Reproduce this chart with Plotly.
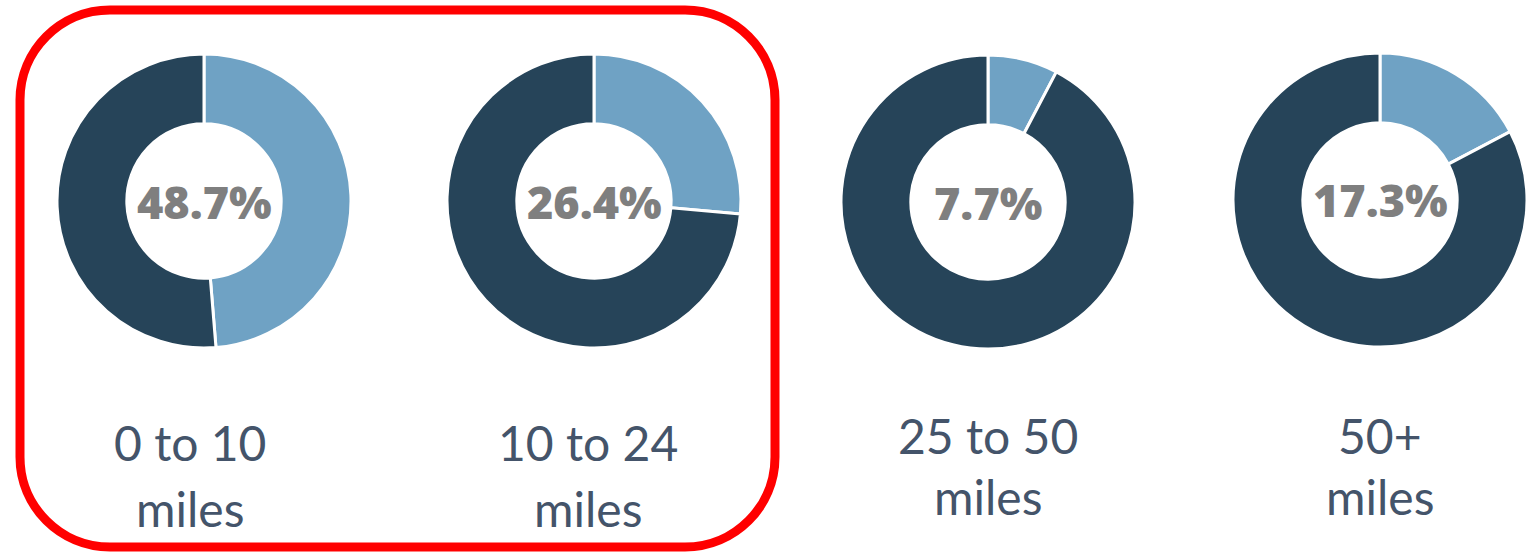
import plotly.graph_objects as go

# ---- data ----
categories = ["0 to 10<br>miles", "10 to 24<br>miles", "25 to 50<br>miles", "50+<br>miles"]
share_pct = [48.7, 26.4, 7.7, 17.3]
center_labels = ["48.7%", "26.4%", "7.7%", "17.3%"]
slice_names = ["Share", "Other"]

# ---- layout constants (pixels) ----
W, H = 1536, 553
centers_x = [204, 594, 988, 1380]
centers_y = [201, 201, 202, 200]
radius = 147
label_x = [190, 588, 988, 1380]
label_line1_y = [442, 442, 435, 435]
label_line2_y = [508, 508, 496, 496]

LIGHT = "#6FA2C4"
DARK = "#264459"
TEXT2 = "#44546A"
GREY = "#7F7F7F"

fig = go.Figure()

for i, pct in enumerate(share_pct):
    cx, cy = centers_x[i], centers_y[i]
    x0 = (cx - radius) / W
    x1 = (cx + radius) / W
    y0 = (H - cy - radius) / H
    y1 = (H - cy + radius) / H
    fig.add_trace(go.Pie(
        labels=slice_names,
        values=[pct, 100 - pct],
        hole=0.525,
        sort=False,
        direction="clockwise",
        rotation=0,
        textinfo="none",
        hoverinfo="label+percent",
        marker=dict(colors=[LIGHT, DARK], line=dict(color="white", width=3)),
        domain=dict(x=[x0, x1], y=[y0, y1]),
        showlegend=False,
    ))
    # center value
    fig.add_annotation(
        x=cx / W, y=(H - cy) / H, xref="paper", yref="paper",
        text=center_labels[i], showarrow=False,
        font=dict(family="Open Sans", size=45, color=GREY, weight=800),
        xanchor="center", yanchor="middle",
    )
    # category label (two lines)
    line1, line2 = categories[i].split("<br>")
    fig.add_annotation(
        x=label_x[i] / W, y=(H - label_line1_y[i]) / H, xref="paper", yref="paper",
        text=line1, showarrow=False,
        font=dict(family="Lato", size=48, color=TEXT2),
        xanchor="center", yanchor="middle",
    )
    fig.add_annotation(
        x=label_x[i] / W, y=(H - label_line2_y[i]) / H, xref="paper", yref="paper",
        text=line2, showarrow=False,
        font=dict(family="Lato", size=48, color=TEXT2),
        xanchor="center", yanchor="middle",
    )

# red rounded frame around first two charts
L, T, R, B, rad = 20, 10, 775, 547, 90
k = 0.5523 * rad
def px(x):
    return x / W
def py(y):
    return (H - y) / H
path = (
    f"M {px(L+rad)},{py(T)} L {px(R-rad)},{py(T)} "
    f"C {px(R-rad+k)},{py(T)} {px(R)},{py(T+rad-k)} {px(R)},{py(T+rad)} "
    f"L {px(R)},{py(B-rad)} "
    f"C {px(R)},{py(B-rad+k)} {px(R-rad+k)},{py(B)} {px(R-rad)},{py(B)} "
    f"L {px(L+rad)},{py(B)} "
    f"C {px(L+rad-k)},{py(B)} {px(L)},{py(B-rad+k)} {px(L)},{py(B-rad)} "
    f"L {px(L)},{py(T+rad)} "
    f"C {px(L)},{py(T+rad-k)} {px(L+rad-k)},{py(T)} {px(L+rad)},{py(T)} Z"
)
fig.add_shape(type="path", path=path, xref="paper", yref="paper",
              line=dict(color="#FF0000", width=9), fillcolor="rgba(0,0,0,0)")

fig.update_layout(
    width=W, height=H,
    margin=dict(l=0, r=0, t=0, b=0),
    paper_bgcolor="white", plot_bgcolor="white",
)

fig.write_html(
    "out.html",
    config={"displayModeBar": False},
    post_script="document.body.style.margin='0';document.body.style.overflow='hidden';",
)
